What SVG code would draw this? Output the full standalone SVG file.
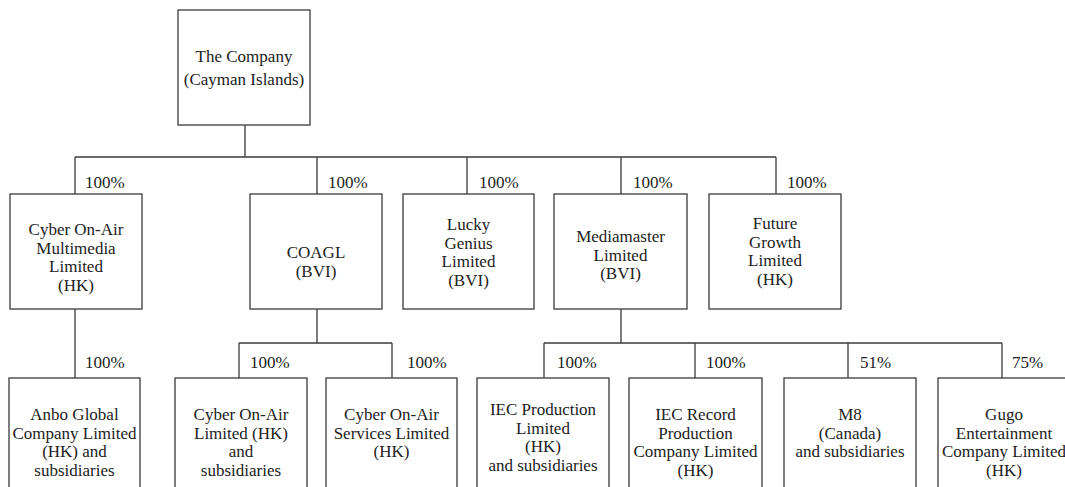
<svg xmlns="http://www.w3.org/2000/svg" width="1065" height="487" viewBox="0 0 1065 487">
<style>
rect{fill:#fff;stroke:#3a3a3a;stroke-width:1.3}
.c line{stroke:#3a3a3a;stroke-width:1.3}
text{font-family:"Liberation Serif","Times New Roman",serif;font-size:17px;fill:#222}
.m{text-anchor:middle}
</style>
<g class="c" id="connectors">
<line x1="245" y1="125" x2="245" y2="157"/>
<line x1="75" y1="157" x2="776" y2="157"/>
<line x1="75" y1="157" x2="75" y2="194"/>
<line x1="317" y1="157" x2="317" y2="194"/>
<line x1="467" y1="157" x2="467" y2="194"/>
<line x1="621" y1="157" x2="621" y2="194"/>
<line x1="776" y1="157" x2="776" y2="194"/>
<line x1="75" y1="309" x2="75" y2="378"/>
<line x1="317" y1="309" x2="317" y2="343"/>
<line x1="239" y1="343" x2="392" y2="343"/>
<line x1="239" y1="343" x2="239" y2="378"/>
<line x1="392" y1="343" x2="392" y2="378"/>
<line x1="621" y1="309" x2="621" y2="343"/>
<line x1="544" y1="343" x2="1002" y2="343"/>
<line x1="544" y1="343" x2="544" y2="378"/>
<line x1="695" y1="343" x2="695" y2="378"/>
<line x1="848" y1="343" x2="848" y2="378"/>
<line x1="1002" y1="343" x2="1002" y2="378"/>
<text x="85" y="188">100%</text>
<text x="328" y="188">100%</text>
<text x="479" y="188">100%</text>
<text x="633" y="188">100%</text>
<text x="787" y="188">100%</text>
<text x="85" y="368">100%</text>
<text x="250" y="368">100%</text>
<text x="407" y="368">100%</text>
<text x="557" y="368">100%</text>
<text x="706" y="368">100%</text>
<text x="860" y="368">51%</text>
<text x="1012" y="368">75%</text>
</g>
<g id="company">
<rect x="178" y="10" width="132" height="115"/>
<text class="m" x="244" y="62">The Company</text>
<text class="m" x="244" y="85">(Cayman Islands)</text>
</g>
<g id="multimedia">
<rect x="10" y="194" width="132" height="115"/>
<text class="m" x="76" y="235">Cyber On-Air</text>
<text class="m" x="76" y="253.5">Multimedia</text>
<text class="m" x="76" y="272">Limited</text>
<text class="m" x="76" y="290.5">(HK)</text>
</g>
<g id="coagl">
<rect x="250" y="194" width="132" height="115"/>
<text class="m" x="316" y="258">COAGL</text>
<text class="m" x="316" y="276.5">(BVI)</text>
</g>
<g id="lucky">
<rect x="403" y="194" width="131" height="115"/>
<text class="m" x="468.5" y="230">Lucky</text>
<text class="m" x="468.5" y="248.5">Genius</text>
<text class="m" x="468.5" y="267">Limited</text>
<text class="m" x="468.5" y="285.5">(BVI)</text>
</g>
<g id="mediamaster">
<rect x="554" y="194" width="133" height="115"/>
<text class="m" x="620.5" y="242">Mediamaster</text>
<text class="m" x="620.5" y="260.5">Limited</text>
<text class="m" x="620.5" y="279">(BVI)</text>
</g>
<g id="future">
<rect x="709" y="194" width="132" height="115"/>
<text class="m" x="775" y="229">Future</text>
<text class="m" x="775" y="247.5">Growth</text>
<text class="m" x="775" y="266">Limited</text>
<text class="m" x="775" y="284.5">(HK)</text>
</g>
<g id="anbo">
<rect x="9" y="378" width="131" height="130"/>
<text class="m" x="74.5" y="420">Anbo Global</text>
<text class="m" x="74.5" y="438.5">Company Limited</text>
<text class="m" x="74.5" y="457">(HK) and</text>
<text class="m" x="74.5" y="475.5">subsidiaries</text>
</g>
<g id="cyberltd">
<rect x="175" y="378" width="132" height="130"/>
<text class="m" x="241" y="420">Cyber On-Air</text>
<text class="m" x="241" y="438.5">Limited (HK)</text>
<text class="m" x="241" y="457">and</text>
<text class="m" x="241" y="475.5">subsidiaries</text>
</g>
<g id="services">
<rect x="326" y="378" width="131" height="130"/>
<text class="m" x="391.5" y="420">Cyber On-Air</text>
<text class="m" x="391.5" y="438.5">Services Limited</text>
<text class="m" x="391.5" y="457">(HK)</text>
</g>
<g id="iecprod">
<rect x="477" y="378" width="132" height="130"/>
<text class="m" x="543" y="415">IEC Production</text>
<text class="m" x="543" y="433.5">Limited</text>
<text class="m" x="543" y="452">(HK)</text>
<text class="m" x="543" y="470.5">and subsidiaries</text>
</g>
<g id="iecrecord">
<rect x="629" y="378" width="133" height="130"/>
<text class="m" x="695.5" y="420">IEC Record</text>
<text class="m" x="695.5" y="438.5">Production</text>
<text class="m" x="695.5" y="457">Company Limited</text>
<text class="m" x="695.5" y="475.5">(HK)</text>
</g>
<g id="m8">
<rect x="784" y="378" width="132" height="130"/>
<text class="m" x="850" y="420">M8</text>
<text class="m" x="850" y="438.5">(Canada)</text>
<text class="m" x="850" y="457">and subsidiaries</text>
</g>
<g id="gugo">
<rect x="938" y="378" width="132" height="130"/>
<text class="m" x="1004" y="420">Gugo</text>
<text class="m" x="1004" y="438.5">Entertainment</text>
<text class="m" x="1004" y="457">Company Limited</text>
<text class="m" x="1004" y="475.5">(HK)</text>
</g>
</svg>
